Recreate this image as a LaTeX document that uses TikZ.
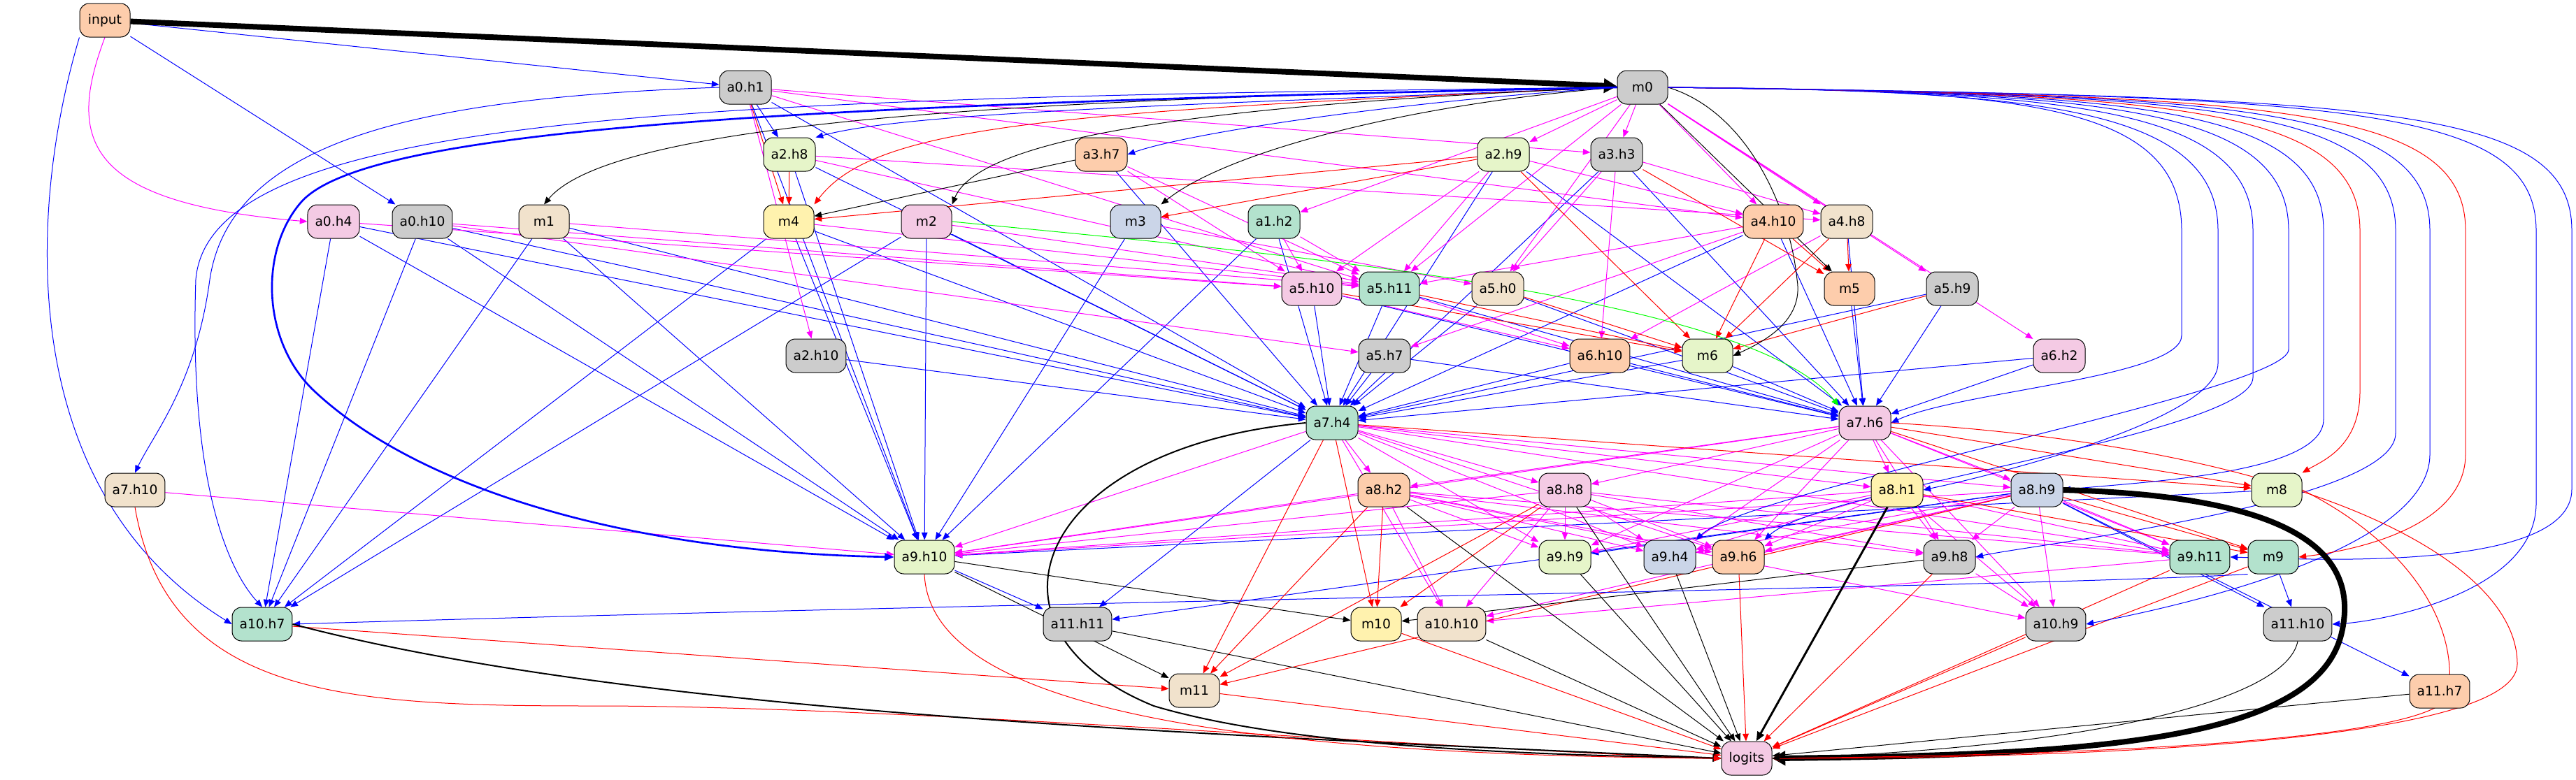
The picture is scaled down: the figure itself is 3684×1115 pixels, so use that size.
\documentclass[tikz,border=0pt]{standalone}
\usepackage{fontspec}
\newfontfamily\nfont{DejaVu Sans}
\usetikzlibrary{arrows.meta}
\definecolor{cGr}{HTML}{B3E2CD}
\definecolor{cOr}{HTML}{FDCDAC}
\definecolor{cBl}{HTML}{CBD5E8}
\definecolor{cPk}{HTML}{F4CAE4}
\definecolor{cLg}{HTML}{E6F5C9}
\definecolor{cYe}{HTML}{FFF2AE}
\definecolor{cBe}{HTML}{F1E2CC}
\definecolor{cGy}{HTML}{CCCCCC}
\definecolor{eB}{RGB}{0,0,255}
\definecolor{eM}{RGB}{255,0,255}
\definecolor{eR}{RGB}{255,0,0}
\definecolor{eG}{RGB}{0,255,0}
\definecolor{eK}{RGB}{0,0,0}
\pgfdeclarelayer{edges}
\pgfsetlayers{edges,main}
\tikzset{
  nd/.style={draw=black, line width=0.75pt, rounded corners=10pt, minimum width=54pt,
    minimum height=36pt, inner xsep=7.9pt, inner ysep=0pt, font=\nfont\fontsize{14}{16}\selectfont},
  ar/.style={-{Triangle[length=8pt,width=6.5pt]}, line width=0.75pt},
  B/.style={ar, draw=eB},
  M/.style={ar, draw=eM},
  R/.style={ar, draw=eR},
  K/.style={ar, draw=eK},
  G/.style={ar, draw=eG},
}
\begin{document}
\begin{tikzpicture}[x=0.75pt,y=-0.75pt]
\useasboundingbox (0,0) rectangle (3684,1115);
% nodes
\node[nd, fill=cOr] (input) at (150,29) {input};
\node[nd, fill=cGy] (m0) at (2349,125) {m0};
\node[nd, fill=cGy] (a0h1) at (1066,125) {a0.h1};
\node[nd, fill=cLg] (a2h8) at (1129,221) {a2.h8};
\node[nd, fill=cOr] (a3h7) at (1575,221) {a3.h7};
\node[nd, fill=cLg] (a2h9) at (2150,221) {a2.h9};
\node[nd, fill=cGy] (a3h3) at (2312,221) {a3.h3};
\node[nd, fill=cPk] (a0h4) at (477,317) {a0.h4};
\node[nd, fill=cGy] (a0h10) at (604,317) {a0.h10};
\node[nd, fill=cBe] (m1) at (778,317) {m1};
\node[nd, fill=cYe] (m4) at (1128,317) {m4};
\node[nd, fill=cPk] (m2) at (1325,317) {m2};
\node[nd, fill=cBl] (m3) at (1624,317) {m3};
\node[nd, fill=cGr] (a1h2) at (1822,317) {a1.h2};
\node[nd, fill=cOr] (a4h10) at (2536,317) {a4.h10};
\node[nd, fill=cBe] (a4h8) at (2641,317) {a4.h8};
\node[nd, fill=cPk] (a5h10) at (1876,413) {a5.h10};
\node[nd, fill=cGr] (a5h11) at (1987,413) {a5.h11};
\node[nd, fill=cBe] (a5h0) at (2142,413) {a5.h0};
\node[nd, fill=cOr] (m5) at (2645,413) {m5};
\node[nd, fill=cGy] (a5h9) at (2792,413) {a5.h9};
\node[nd, fill=cGy] (a2h10) at (1167,509) {a2.h10};
\node[nd, fill=cGy] (a5h7) at (1980,509) {a5.h7};
\node[nd, fill=cOr] (a6h10) at (2288,509) {a6.h10};
\node[nd, fill=cLg] (m6) at (2442,509) {m6};
\node[nd, fill=cPk] (a6h2) at (2945,509) {a6.h2};
\node[nd, fill=cGr] (a7h4) at (1905,605) {a7.h4};
\node[nd, fill=cPk] (a7h6) at (2667,605) {a7.h6};
\node[nd, fill=cBe] (a7h10) at (193,701) {a7.h10};
\node[nd, fill=cOr] (a8h2) at (1979,701) {a8.h2};
\node[nd, fill=cPk] (a8h8) at (2238,701) {a8.h8};
\node[nd, fill=cYe] (a8h1) at (2713,701) {a8.h1};
\node[nd, fill=cBl] (a8h9) at (2913,701) {a8.h9};
\node[nd, fill=cLg] (m8) at (3256,701) {m8};
\node[nd, fill=cLg] (a9h10) at (1322,797) {a9.h10};
\node[nd, fill=cLg] (a9h9) at (2238,797) {a9.h9};
\node[nd, fill=cBl] (a9h4) at (2388,797) {a9.h4};
\node[nd, fill=cOr] (a9h6) at (2486,797) {a9.h6};
\node[nd, fill=cGy] (a9h8) at (2788,797) {a9.h8};
\node[nd, fill=cGr] (a9h11) at (3146,797) {a9.h11};
\node[nd, fill=cGr] (m9) at (3251,797) {m9};
\node[nd, fill=cGr] (a10h7) at (375,893) {a10.h7};
\node[nd, fill=cGy] (a11h11) at (1541,893) {a11.h11};
\node[nd, fill=cYe] (m10) at (1968,893) {m10};
\node[nd, fill=cBe] (a10h10) at (2076,893) {a10.h10};
\node[nd, fill=cGy] (a10h9) at (2940,893) {a10.h9};
\node[nd, fill=cGy] (a11h10) at (3286,893) {a11.h10};
\node[nd, fill=cBe] (m11) at (1708,988) {m11};
\node[nd, fill=cOr] (a11h7) at (3489,989) {a11.h7};
\node[nd, fill=cPk] (logits) at (2498,1085) {logits};

\begin{pgfonlayer}{edges}
\fill[white] (0,0) rectangle (3684,1115);
% ---- blue straight
\foreach \s/\t in {input/a0h1, input/a0h10, a0h1/a2h8,
  a0h4/a7h4, a0h10/a7h4, m1/a7h4, a0h1/a7h4, m4/a7h4, m2/a7h4, a2h8/a7h4, a2h10/a7h4,
  a3h7/a7h4, a1h2/a7h4, a5h10/a7h4, a5h11/a7h4, a5h7/a7h4, a5h0/a7h4, a6h10/a7h4,
  m6/a7h4, a2h9/a7h4, a3h3/a7h4, a4h10/a7h4, a6h2/a7h4, a5h9/a7h4,
  a5h10/a7h6, a5h11/a7h6, a5h7/a7h6, a5h0/a7h6, a6h10/a7h6, m6/a7h6, a6h2/a7h6,
  a5h9/a7h6, m5/a7h6, a4h8/a7h6, a4h10/a7h6, a3h3/a7h6, a2h9/a7h6,
  a0h1/a9h10, a0h4/a9h10, a0h10/a9h10, m1/a9h10, m4/a9h10, m2/a9h10, m3/a9h10,
  a1h2/a9h10, a2h8/a9h10, m8/a9h10,
  a0h10/a10h7, m1/a10h7, m4/a10h7, m2/a10h7, a0h4/a10h7,
  a9h10/a11h11, a7h4/a11h11, a8h9/a11h11, a8h9/a9h9,
  m9/a11h10, a8h9/a11h10, a8h9/a11h7}
  \draw[B] (\s) -- (\t);
% ---- magenta straight
\foreach \s/\t in {m0/a1h2, m0/a2h9, a0h1/a2h10, m0/a3h3, a0h1/a3h3, m0/a4h10, a2h9/a4h10,
  a0h1/a4h10, m0/a4h8, a3h3/a4h8, a2h8/a4h8, m0/a5h9, m0/a6h2,
  a1h2/a5h10, a2h9/a5h10, a3h7/a5h10, a0h4/a5h10, a0h10/a5h10,
  m1/a5h11, m4/a5h11, m2/a5h11, a2h8/a5h11, a0h1/a5h11, a1h2/a5h11, a3h7/a5h11,
  m0/a5h11, a2h9/a5h11, a4h10/a5h11,
  m3/a5h0, a3h3/a5h0, m0/a5h0, a0h10/a5h7, a4h10/a5h7,
  a5h10/a6h10, a5h11/a6h10, a3h3/a6h10, a4h8/a6h10,
  a7h4/a8h2, a7h6/a8h2, a7h4/a8h8, a7h6/a8h8, a7h6/a8h1, a7h4/a8h1, a7h6/a8h9, a7h4/a8h9,
  a7h10/a9h10, a7h4/a9h10, a8h2/a9h10, a8h8/a9h10, a8h1/a9h10, a8h9/a9h10, a7h6/a9h10,
  a8h8/a9h9, a8h2/a9h9, a7h4/a9h9, a7h6/a9h9, a8h1/a9h9,
  a8h8/a9h4, a8h2/a9h4, a7h6/a9h4, a8h1/a9h4, a8h9/a9h4, a7h4/a9h4,
  a8h8/a9h6, a8h1/a9h6, a8h9/a9h6, a7h6/a9h6, a7h4/a9h6, a8h2/a9h6,
  a8h1/a9h8, a8h9/a9h8, a7h6/a9h8, a8h8/a9h8, a8h2/a9h8,
  a8h8/a9h11, a8h1/a9h11, a8h9/a9h11, a7h6/a9h11, a7h4/a9h11, a8h2/a9h11,
  a7h4/a10h10, a8h8/a10h10, a8h2/a10h10, a9h11/a10h10, a8h9/a10h10,
  a9h8/a10h9, a8h9/a10h9, a8h1/a10h9, a8h2/a10h9, a7h6/a10h9}
  \draw[M] (\s) -- (\t);
% ---- red straight
\foreach \s/\t in {a0h1/m4, a2h8/m4, a2h9/m4, a2h9/m3, a2h9/m6, a3h3/m5, a4h10/m5, a4h8/m5,
  a4h10/m6, a4h8/m6, a5h9/m6, a5h10/m6, a5h11/m6, a5h0/m6,
  a7h6/m8, a7h4/m8, a8h1/m9, a8h9/m9, a7h6/m9,
  a8h2/m10, a8h8/m10, a7h4/m10,
  a7h4/m11, a8h2/m11, a8h8/m11, a8h9/m11, a10h7/m11,
  m11/logits, m10/logits, a9h6/logits, a9h8/logits, a9h11/logits, m9/logits, a10h9/logits}
  \draw[R] (\s) -- (\t);
% ---- black straight
\foreach \s/\t in {a3h7/m4, m0/m5, a9h10/m10, a9h10/m11, a9h8/m10,
  a11h11/logits, a10h10/logits, a8h2/logits, a8h8/logits, a9h9/logits, a9h4/logits,
  a11h7/logits}
  \draw[K] (\s) -- (\t);
% ---- special curves
\draw[K, line width=6pt, -{Triangle[length=14pt,width=15pt]}] (input) -- (m0);
\draw[M] (input.south) .. controls (95,200) and (120,290) .. (a0h4.west);
\draw[B] (input.south west) .. controls (40,300) and (20,700) .. (a10h7.west);
\draw[K] (m0.west) .. controls (1500,140) and (880,170) .. (m1.north);
\draw[B] (m0.west) .. controls (1700,150) and (1300,160) .. (a2h8.north east);
\draw[R] (m0.west) .. controls (1500,160) and (1250,180) .. (m4.north east);
\draw[K] (m0.west) .. controls (1700,150) and (1400,200) .. (m2.north east);
\draw[K] (m0.west) .. controls (2000,150) and (1750,220) .. (m3.north east);
\draw[B] (m0.west) .. controls (2000,145) and (1700,190) .. (a3h7.east);
\draw[B, line width=2pt, -{Triangle[length=10pt,width=8pt]}] (m0.west) .. controls (1100,150) and (520,185) .. (430,290) .. controls (370,360) and (375,490) .. (450,560) .. controls (600,700) and (900,790) .. (a9h10.west);
\draw[B] (m0.west) .. controls (1000,140) and (300,160) .. (280,400) .. controls (270,700) and (330,820) .. (a10h7.north);
\draw[B] (a0h1.west) .. controls (600,140) and (330,200) .. (300,400) .. controls (280,550) and (220,620) .. (a7h10.north);
\draw[K] (m0.east) .. controls (2500,160) and (2560,300) .. (2570,400) .. controls (2580,460) and (2520,490) .. (m6.east);
% right fan from m0
\draw[B] (m0.east) .. controls (2900,128) and (3120,150) .. (3120,330) -- (3120,480) .. controls (3120,540) and (2800,560) .. (a7h6.east);
\draw[B] (m0.east) .. controls (2900,130) and (3172,150) .. (3172,330) -- (3172,520) .. controls (3172,600) and (2850,680) .. (a8h1.east);
\draw[B] (m0.east) .. controls (2950,131) and (3222,150) .. (3222,330) -- (3222,540) .. controls (3222,620) and (2600,700) .. (a9h6.north east);
\draw[B] (m0.east) .. controls (3000,132) and (3273,150) .. (3273,330) -- (3273,500) .. controls (3273,560) and (2500,700) .. (a9h4.north east);
\draw[B] (m0.east) .. controls (3050,133) and (3323,150) .. (3323,330) -- (3323,600) .. controls (3323,680) and (3050,690) .. (a8h9.east);
\draw[R] (m0.east) .. controls (3100,134) and (3375,150) .. (3375,330) -- (3375,560) .. controls (3375,640) and (3320,660) .. (m8.north east);
\draw[B] (m0.east) .. controls (3150,135) and (3426,150) .. (3426,330) -- (3426,620) .. controls (3426,720) and (2900,780) .. (a9h8.east);
\draw[B] (m0.east) .. controls (3200,136) and (3475,150) .. (3475,330) -- (3475,650) .. controls (3475,800) and (3050,880) .. (a10h9.east);
\draw[R] (m0.east) .. controls (3250,137) and (3526,150) .. (3526,330) -- (3526,650) .. controls (3526,760) and (3350,790) .. (m9.east);
\draw[B] (m0.east) .. controls (3350,138) and (3627,150) .. (3627,330) -- (3627,720) .. controls (3627,850) and (3400,890) .. (a11h10.east);
\draw[B] (m0.east) .. controls (3400,139) and (3678,150) .. (3678,330) -- (3678,700) .. controls (3678,820) and (3300,800) .. (a9h11.east);
% green
\draw[G] (m2.east) .. controls (1800,360) and (2500,420) .. (a7h6.north west);
% long edges in the lower half
\draw[B] (m9.south west) .. controls (2900,840) and (1500,860) .. (a10h7.east);
\draw[R] (a7h10.south) .. controls (240,1000) and (500,1010) .. (850,1010) .. controls (1300,1010) and (2100,1075) .. (logits.west);
\draw[K, line width=1.5pt, -{Triangle[length=9pt,width=7.5pt]}] (a10h7.east) .. controls (900,1020) and (1700,1050) .. (logits.west);
\draw[K, line width=1.5pt, -{Triangle[length=9pt,width=7.5pt]}] (a7h4.west) .. controls (1480,640) and (1380,900) .. (1650,1010) .. controls (1850,1070) and (2200,1080) .. (logits.west);
\draw[R] (a9h10.south) .. controls (1330,1000) and (1700,1080) .. (logits.west);
\draw[K, line width=2.2pt, -{Triangle[length=10pt,width=8pt]}] (a8h1) -- (logits);
\draw[K, line width=6pt, -{Triangle[length=14pt,width=15pt]}] (a8h9.east) .. controls (3300,710) and (3370,800) .. (3350,900) .. controls (3320,1060) and (3000,1080) .. (logits.east);
\draw[R] (a7h6.east) .. controls (3300,640) and (3600,800) .. (3600,950) .. controls (3600,1060) and (3000,1085) .. (logits.east);
\draw[R] (m8.east) .. controls (3450,780) and (3520,900) .. (3500,1000) .. controls (3450,1060) and (3000,1080) .. (logits.east);
\draw[K] (a11h10.south) .. controls (3270,1000) and (3000,1070) .. (logits.east);
\end{pgfonlayer}
\end{tikzpicture}
\end{document}
